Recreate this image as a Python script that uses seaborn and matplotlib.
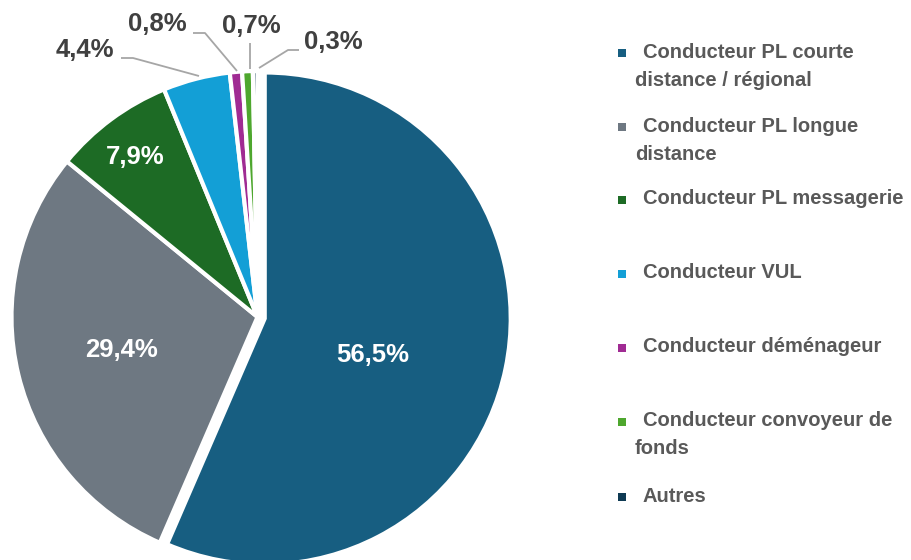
import matplotlib
matplotlib.use("Agg")
import matplotlib.pyplot as plt
import seaborn as sns
import numpy as np

# Répartition des conducteurs par métier (%)
categories = [
    "Conducteur PL courte\ndistance / régional",
    "Conducteur PL longue\ndistance",
    "Conducteur PL messagerie",
    "Conducteur VUL",
    "Conducteur déménageur",
    "Conducteur convoyeur de\nfonds",
    "Autres",
]
values = [56.5, 29.4, 7.9, 4.4, 0.8, 0.7, 0.3]
colors = ["#175E81", "#6E7882", "#1D6B25", "#139FD6", "#A02B93", "#4EA72E", "#0E3A53"]

sns.set_theme(style="white")
plt.rcParams["font.family"] = ["Liberation Sans", "DejaVu Sans"]
palette = sns.color_palette(colors)

W, H = 912, 560
fig = plt.figure(figsize=(W / 100, H / 100), dpi=100)
ax = fig.add_axes([0, 0, 1, 1])


def Y(py):
    return H - py


cx, cy, r = 257.5, Y(317), 246
# first slice pulled out a little (offset in pixel units)
explode = [0.03 * r, 0, 0, 0, 0, 0, 0]
wedges, _ = ax.pie(
    values, colors=palette, startangle=90, counterclock=False,
    center=(cx, cy), radius=r, explode=explode,
    wedgeprops=dict(edgecolor="white", linewidth=3),
)
ax.set_xlim(0, W)
ax.set_ylim(0, H)
ax.set_aspect("auto")
ax.axis("off")


def fmt(v):
    return f"{v:.1f}%".replace(".", ",")


# labels inside the large slices
inside = {0: (373, 355), 1: (122, 350), 2: (135, 157)}
for i, (px, py) in inside.items():
    ax.text(px, Y(py), fmt(values[i]), color="white", fontsize=18.5,
            fontweight="bold", ha="center", va="center")

# small slices: labels outside with leader lines
outside = {
    3: ((85, 50), [(121, 58), (133, 58), (199, 76)]),
    4: ((157, 24), [(193, 33), (205, 33), (237, 71)]),
    5: ((251, 26), [(250, 43), (250, 69)]),
    6: ((333, 42), [(299, 50), (288, 50), (259, 68)]),
}
for i, ((px, py), pts) in outside.items():
    ax.text(px, Y(py), fmt(values[i]), color="#404040", fontsize=18.5,
            fontweight="bold", ha="center", va="center")
    xs = [p[0] for p in pts]
    ys = [Y(p[1]) for p in pts]
    ax.plot(xs, ys, color="#A6A6A6", linewidth=1.3, solid_capstyle="butt")

# legend drawn entry by entry
legend_y = [52, 126, 199, 273, 347, 421, 496]
line_gap = 28
for cat, col, ly in zip(categories, palette, legend_y):
    ax.add_patch(plt.Rectangle((618, Y(ly + 5)), 8, 8, facecolor=col, edgecolor="none"))
    lines = cat.split("\n")
    ax.text(643, Y(ly), lines[0], color="#595959", fontsize=14.5,
            fontweight="bold", ha="left", va="center")
    for k, extra in enumerate(lines[1:], start=1):
        ax.text(635, Y(ly + k * line_gap), extra, color="#595959", fontsize=14.5,
                fontweight="bold", ha="left", va="center")

fig.savefig("out.png", dpi=100, facecolor="white")
